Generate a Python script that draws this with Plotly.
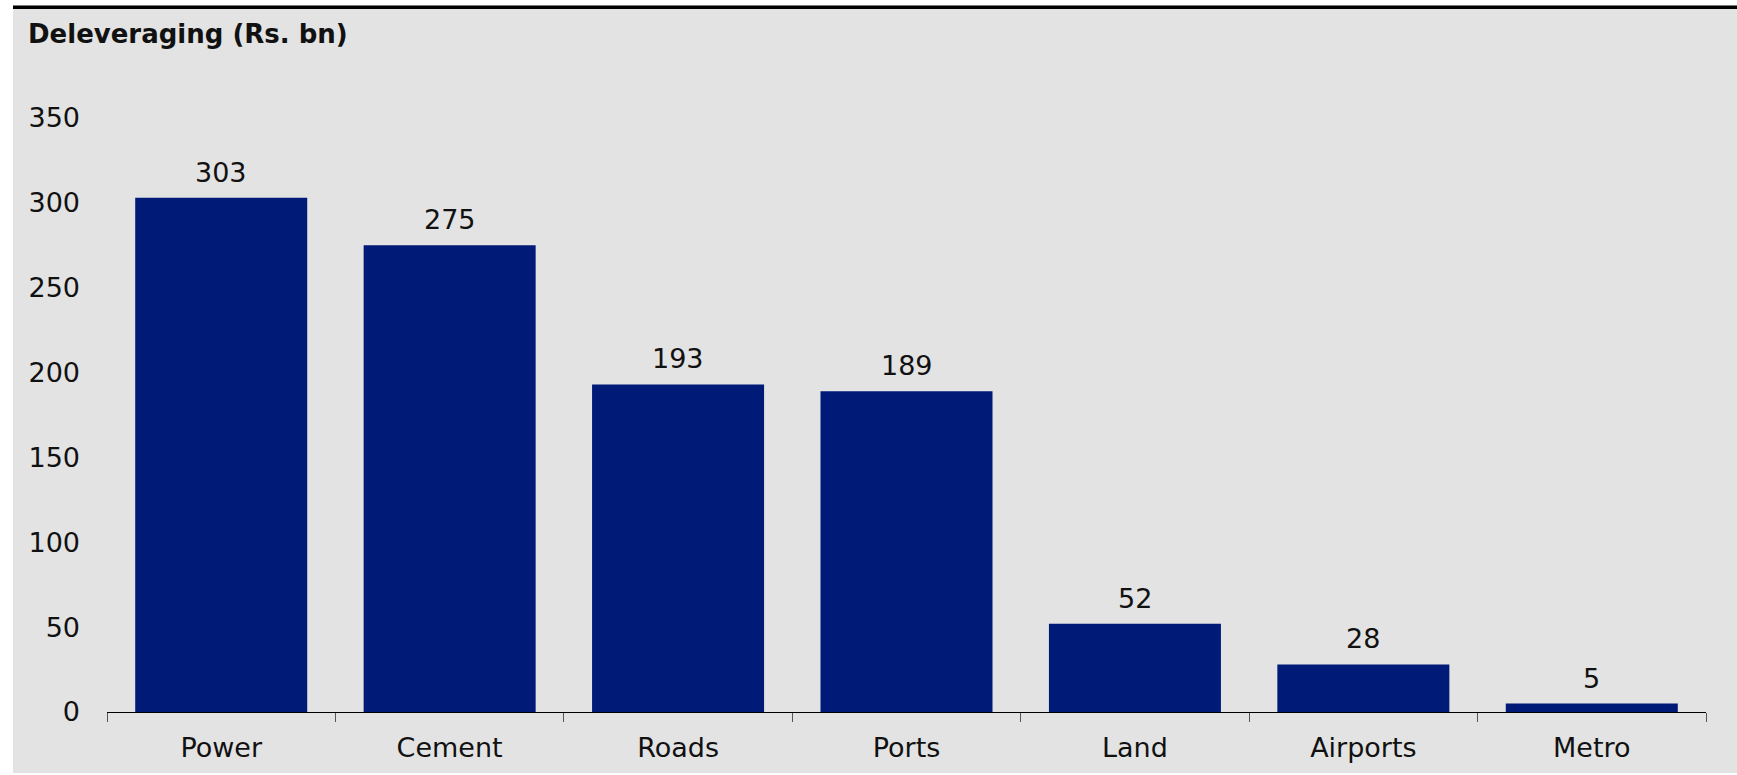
import plotly.graph_objects as go

# Deleveraging by business segment (Rs. bn)
categories = ["Power", "Cement", "Roads", "Ports", "Land", "Airports", "Metro"]
values = [303, 275, 193, 189, 52, 28, 5]
y_ticks = [0, 50, 100, 150, 200, 250, 300, 350]

W, H = 1737, 775
L, R, T, B = 107, 31, 118, 63
plot_w = W - L - R
plot_h = H - T - B

BG = "#e3e3e3"
BAR = "#001a78"
FONT = "DejaVu Sans, Verdana, sans-serif"


def px_x(px):
    return (px - L) / plot_w


def px_y(py):
    return (H - B - py) / plot_h


fig = go.Figure(
    go.Bar(
        x=categories,
        y=values,
        marker=dict(color=BAR, line=dict(width=0)),
        width=0.753,
        hoverinfo="x+y",
    )
)

# value labels above each bar
for c, v in zip(categories, values):
    fig.add_annotation(
        x=c, y=v, text=str(v), showarrow=False,
        xref="x", yref="y", yanchor="bottom", yshift=8,
        font=dict(family=FONT, size=27, color="#111111"),
    )

# chart heading
fig.add_annotation(
    x=px_x(26), y=px_y(34), xref="paper", yref="paper",
    xanchor="left", yanchor="middle", showarrow=False,
    text="<b>Deleveraging (Rs. bn)</b>",
    font=dict(family=FONT, size=26, color="#111111"),
)

# frame: white margin strips and heavy top rule
fig.add_shape(type="rect", xref="paper", yref="paper",
              x0=px_x(0), x1=px_x(W), y0=px_y(0), y1=px_y(5.5),
              fillcolor="white", line=dict(width=0), layer="below")
fig.add_shape(type="rect", xref="paper", yref="paper",
              x0=px_x(0), x1=px_x(W), y0=px_y(5.5), y1=px_y(9),
              fillcolor="black", line=dict(width=0), layer="below")
fig.add_shape(type="rect", xref="paper", yref="paper",
              x0=px_x(0), x1=px_x(13), y0=px_y(0), y1=px_y(H),
              fillcolor="white", line=dict(width=0), layer="below")
fig.add_shape(type="rect", xref="paper", yref="paper",
              x0=px_x(0), x1=px_x(W), y0=px_y(773), y1=px_y(H),
              fillcolor="white", line=dict(width=0), layer="below")

fig.update_layout(
    width=W, height=H,
    margin=dict(l=L, r=R, t=T, b=B, pad=0),
    paper_bgcolor=BG,
    plot_bgcolor=BG,
    showlegend=False,
    bargap=0.247,
    font=dict(family=FONT, size=27, color="#111111"),
    xaxis=dict(
        type="category",
        showline=True, linecolor="black", linewidth=1,
        ticks="outside", tickson="boundaries", ticklen=9,
        tickcolor="#555555", tickwidth=1,
        showgrid=False, zeroline=False,
        ticklabelstandoff=12,
        tickfont=dict(family=FONT, size=27, color="#111111"),
        range=[-0.5, len(categories) - 0.5],
    ),
    yaxis=dict(
        range=[0, 350],
        tickvals=y_ticks,
        ticktext=[str(t) for t in y_ticks],
        showline=False, showgrid=False, zeroline=False,
        ticks="", ticklabelstandoff=26,
        tickfont=dict(family=FONT, size=27, color="#111111"),
    ),
)

fig.write_html("out.html")
